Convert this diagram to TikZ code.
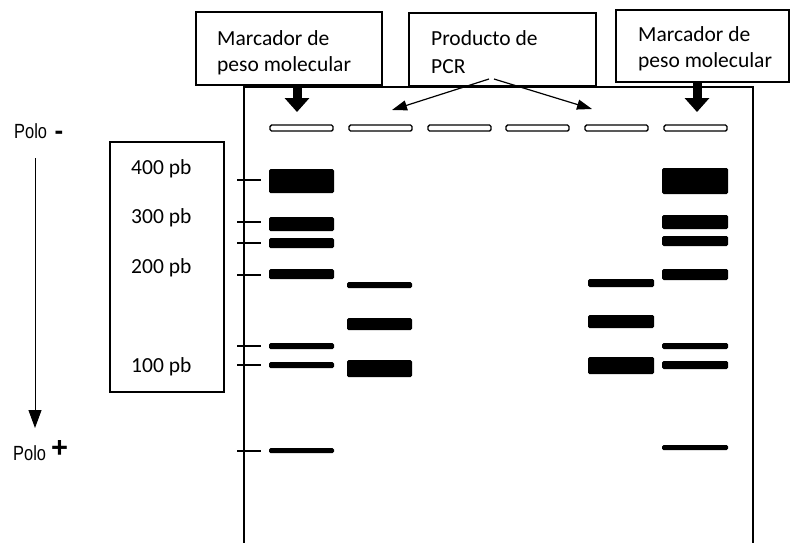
\documentclass[tikz,border=0pt]{standalone}
\usepackage{fontspec}
\setmainfont{Carlito}
\newfontfamily\polofont[FakeStretch=0.8]{Liberation Sans}
\newfontfamily\signfont{Liberation Sans}
\usetikzlibrary{arrows.meta}
\begin{document}
\begin{tikzpicture}[x=1pt,y=-1pt,
  box/.style={draw, line width=1.5pt, inner sep=0pt, fill=white},
  lbl/.style={anchor=base west, inner sep=0pt, font=\fontsize{21.5}{27}\selectfont},
  polo/.style={anchor=base west, inner sep=0pt, font=\polofont\fontsize{20.5}{20.5}\selectfont},
  sign/.style={anchor=base, inner sep=0pt},
  well/.style={draw, line width=1.4pt, rounded corners=1.5pt, minimum width=63pt, minimum height=6pt, inner sep=0pt},
  band/.style={fill=black, rounded corners=1.5pt},
  tick/.style={line width=1.5pt},
  gel/.style={line width=1.5pt},
  bigarrow/.style={line width=9pt, -{Triangle[length=14pt,width=24pt]}},
  thinarrow/.style={line width=1.2pt, -{Triangle[length=15pt,width=10pt]}},
  polearrow/.style={line width=1pt, -{Triangle[length=18pt,width=13pt]}}
]
\useasboundingbox (0,0) rectangle (791,542);

% gel outline
\draw[gel] (244,546) -- (244,87) -- (753,87) -- (753,546);

% wells
\node[well] (w1) at (301.5,128) {};
\node[well] (w2) at (380.5,128) {};
\node[well] (w3) at (459.5,128) {};
\node[well] (w4) at (537.5,128) {};
\node[well] (w5) at (616.5,128) {};
\node[well] (w6) at (695.5,128) {};

% lane 1 (marker)
\fill[band] (269,169) rectangle (334,193);
\fill[band] (269,217) rectangle (334,231);
\fill[band] (269,238) rectangle (334,248);
\fill[band] (269,269) rectangle (334,279);
\fill[band] (269,343) rectangle (334,349);
\fill[band] (269,362) rectangle (334,368);
\fill[band] (269,448) rectangle (334,453);
% lane 2 (PCR)
\fill[band] (347,282) rectangle (412,288);
\fill[band] (347,318) rectangle (412,330);
\fill[band] (347,360) rectangle (412,377);
% lane 5 (PCR)
\fill[band] (588,279) rectangle (654,287);
\fill[band] (588,315) rectangle (654,328);
\fill[band] (588,357) rectangle (654,374);
% lane 6 (marker)
\fill[band] (662,168) rectangle (728,194);
\fill[band] (662,215) rectangle (728,229);
\fill[band] (662,236) rectangle (728,246);
\fill[band] (662,269) rectangle (728,280);
\fill[band] (662,343) rectangle (728,349);
\fill[band] (662,361) rectangle (728,369);
\fill[band] (662,445) rectangle (728,450);

% ticks
\foreach \ty in {180,222,243,275,346,365,451}
  \draw[tick] (237,\ty) -- (261,\ty);

% top boxes
\node[box, minimum width=186pt, minimum height=73pt] (m1) at (289,48.5) {};
\node[lbl] (m1a) at (217,45) {Marcador de};
\node[lbl] (m1b) at (217,71) {peso molecular};

\node[box, minimum width=187pt, minimum height=73pt] (pcr) at (502.5,49.5) {};
\node[lbl] (pcra) at (431,45) {Producto de};
\node[lbl] (pcrb) at (431,73) {PCR};

\node[box, minimum width=173pt, minimum height=72pt] (m2) at (702.5,46) {};
\node[lbl] (m2a) at (638,41) {Marcador de};
\node[lbl] (m2b) at (638,67) {peso molecular};

% left size box
\node[box, minimum width=114pt, minimum height=250pt] (lb) at (167,267) {};
\node[lbl] (s400) at (131,174) {400 pb};
\node[lbl] (s300) at (131,223) {300 pb};
\node[lbl] (s200) at (131,273) {200 pb};
\node[lbl] (s100) at (131,372) {100 pb};

% thick arrows
\coordinate (a1) at (297,112);
\coordinate (a6) at (697,112);
\draw[bigarrow] (m1.south -| a1) -- (a1);
\draw[bigarrow] (m2.south -| a6) -- (a6);

% PCR arrows
\coordinate (pl0) at (489,79);
\coordinate (pr0) at (494,79);
\coordinate (pl) at (392,110);
\coordinate (pr) at (592,109);
\draw[thinarrow] (pl0) -- (pl);
\draw[thinarrow] (pr0) -- (pr);

% poles
\node[polo] (pneg) at (14,138) {Polo};
\node[sign, font=\signfont\bfseries\fontsize{26}{26}\selectfont] (neg) at (59,139) {-};
\node[polo] (ppos) at (13,460) {Polo};
\node[sign, font=\signfont\bfseries\fontsize{29}{29}\selectfont] (pos) at (59.5,457) {+};

\coordinate (vtop) at (35,158);
\coordinate (vbot) at (35,428);
\draw[polearrow] (vtop) -- (vbot);
\end{tikzpicture}
\end{document}
